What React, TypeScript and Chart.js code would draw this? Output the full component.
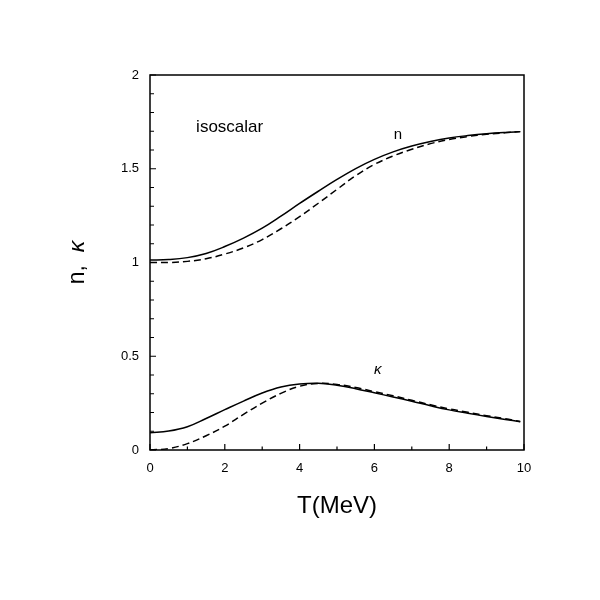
import React, { useEffect, useRef } from "react";
import { Chart, registerables } from "chart.js";

Chart.register(...registerables);

const temperatures = [0, 0.5, 1, 1.5, 2, 2.5, 3, 3.5, 4, 4.5, 5, 5.5, 6, 6.5, 7, 7.5, 8, 8.5, 9, 9.5, 9.9];
const nSolid = [1.013, 1.016, 1.026, 1.048, 1.085, 1.13, 1.183, 1.247, 1.315, 1.38, 1.443, 1.501, 1.55, 1.59, 1.621, 1.645, 1.664, 1.677, 1.687, 1.694, 1.698];
const nDashed = [1.0, 1.0, 1.006, 1.02, 1.045, 1.078, 1.122, 1.18, 1.245, 1.316, 1.39, 1.463, 1.523, 1.568, 1.604, 1.634, 1.656, 1.672, 1.684, 1.692, 1.698];
const kappaSolid = [0.092, 0.101, 0.124, 0.168, 0.215, 0.261, 0.304, 0.336, 0.352, 0.356, 0.345, 0.327, 0.305, 0.283, 0.26, 0.236, 0.214, 0.196, 0.179, 0.163, 0.151];
const kappaDashed = [0.0, 0.008, 0.034, 0.076, 0.127, 0.19, 0.25, 0.302, 0.34, 0.355, 0.35, 0.333, 0.311, 0.289, 0.265, 0.241, 0.219, 0.201, 0.183, 0.167, 0.152];

const xMinorTicks = [1, 3, 5, 7, 9];
const xMajorTicks = [0, 2, 4, 6, 8, 10];
const yMajorTicks = [0, 0.5, 1, 1.5, 2];
const yMinorTicks = [0.1, 0.2, 0.3, 0.4, 0.6, 0.7, 0.8, 0.9, 1.1, 1.2, 1.3, 1.4, 1.6, 1.7, 1.8, 1.9];

const annotations = [
  { text: "isoscalar", x: 2.13, y: 1.72, font: "17px 'Liberation Sans', Arial, sans-serif" },
  { text: "n", x: 6.63, y: 1.68, font: "15px 'Liberation Sans', Arial, sans-serif" },
  { text: "κ", x: 6.09, y: 0.427, font: "italic 15px 'Liberation Sans', Arial, sans-serif" },
];

const xTitle = "T(MeV)";
const yTitleA = "n,  ";
const yTitleB = "κ";

const pts = (ys: number[]) => temperatures.map((t, i) => ({ x: t, y: ys[i] }));

const FONT = "'Liberation Sans', Arial, sans-serif";

const framePlugin = {
  id: "frameTicks",
  afterDraw(chart: any) {
    const { ctx, chartArea } = chart;
    const xs = chart.scales.x;
    const ys = chart.scales.y;
    const { left, right, top, bottom } = chartArea;
    ctx.save();
    ctx.strokeStyle = "#000";
    ctx.lineWidth = 1.5;
    ctx.strokeRect(left, top, right - left, bottom - top);
    ctx.lineWidth = 1.2;
    ctx.beginPath();
    xMajorTicks.forEach((v) => {
      const p = xs.getPixelForValue(v);
      ctx.moveTo(p, bottom);
      ctx.lineTo(p, bottom - 6);
    });
    xMinorTicks.forEach((v) => {
      const p = xs.getPixelForValue(v);
      ctx.moveTo(p, bottom);
      ctx.lineTo(p, bottom - 3.5);
    });
    yMajorTicks.forEach((v) => {
      const p = ys.getPixelForValue(v);
      ctx.moveTo(left, p);
      ctx.lineTo(left + 6, p);
    });
    yMinorTicks.forEach((v) => {
      const p = ys.getPixelForValue(v);
      ctx.moveTo(left, p);
      ctx.lineTo(left + 4, p);
    });
    ctx.stroke();

    ctx.fillStyle = "#000";
    ctx.textAlign = "center";
    ctx.textBaseline = "middle";
    annotations.forEach((a) => {
      ctx.font = a.font;
      ctx.fillText(a.text, xs.getPixelForValue(a.x), ys.getPixelForValue(a.y));
    });

    ctx.font = `24px ${FONT}`;
    ctx.fillText(xTitle, (left + right) / 2, 506);

    ctx.save();
    ctx.translate(78, (top + bottom) / 2);
    ctx.rotate(-Math.PI / 2);
    ctx.textAlign = "left";
    ctx.font = `23px ${FONT}`;
    const wA = ctx.measureText(yTitleA).width;
    ctx.font = `italic 23px ${FONT}`;
    const wB = ctx.measureText(yTitleB).width;
    const start = -(wA + wB) / 2;
    ctx.font = `23px ${FONT}`;
    ctx.fillText(yTitleA, start, 0);
    ctx.font = `italic 23px ${FONT}`;
    ctx.fillText(yTitleB, start + wA, 0);
    ctx.restore();
    ctx.restore();
  },
};

export default function App() {
  const ref = useRef<HTMLCanvasElement>(null);
  useEffect(() => {
    if (!ref.current) return;
    const base = { pointRadius: 0, borderColor: "#000", borderWidth: 1.5, fill: false, tension: 0.4 };
    const chart = new Chart(ref.current, {
      type: "line",
      data: {
        datasets: [
          { ...base, label: "n", data: pts(nSolid) },
          { ...base, label: "n dashed", data: pts(nDashed), borderDash: [7, 4] },
          { ...base, label: "kappa", data: pts(kappaSolid) },
          { ...base, label: "kappa dashed", data: pts(kappaDashed), borderDash: [7, 4] },
        ],
      },
      options: {
        animation: false,
        responsive: false,
        layout: { padding: { left: 0, top: 75, right: 76, bottom: 0 } },
        plugins: { legend: { display: false }, tooltip: { enabled: false } },
        scales: {
          x: {
            type: "linear",
            min: 0,
            max: 10,
            afterFit: (s: any) => { s.height = 150; },
            grid: { display: true, drawOnChartArea: false, drawTicks: false },
            border: { display: false },
            ticks: { stepSize: 2, color: "#000", padding: 11, font: { family: FONT, size: 13 }, maxRotation: 0, callback: (v: any) => String(v) },
          },
          y: {
            type: "linear",
            min: 0,
            max: 2,
            afterFit: (s: any) => { s.width = 150; },
            grid: { display: true, drawOnChartArea: false, drawTicks: false },
            border: { display: false },
            ticks: { stepSize: 0.5, color: "#000", padding: 11, font: { family: FONT, size: 13 }, callback: (v: any) => String(v) },
          },
        },
      },
      plugins: [framePlugin],
    });
    return () => chart.destroy();
  }, []);
  return (
    <div style={{ position: "absolute", left: 0, top: 0, width: 600, height: 600, background: "#fff" }}>
      <canvas ref={ref} width={600} height={600} />
    </div>
  );
}
